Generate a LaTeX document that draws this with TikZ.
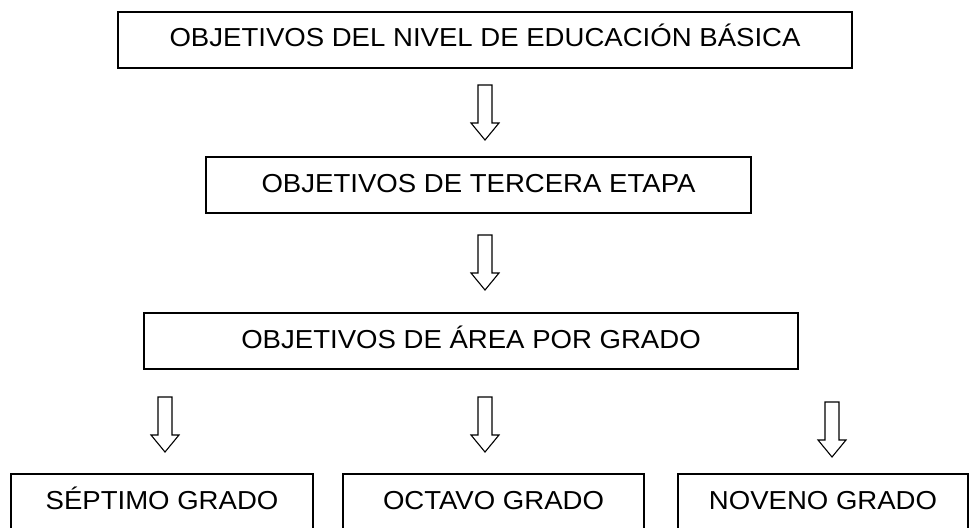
\documentclass[tikz,border=0pt]{standalone}
\usepackage{fontspec}
\setmainfont[FakeStretch=1.06]{Liberation Sans}
\usetikzlibrary{positioning}
% hollow block arrow pointing down: centre x, top y
\newcommand{\hollowarrow}[2]{\draw[line width=1.1pt, line join=miter] ( #1-7 , #2 ) -- ( #1+7 , #2 ) -- ( #1+7 , #2+38 ) -- ( #1+14 , #2+38 ) -- ( #1 , #2+55 ) -- ( #1-14 , #2+38 ) -- ( #1-7 , #2+38 ) -- cycle;}

\begin{document}
\begin{tikzpicture}[x=1pt, y=-1pt,
    caja/.style={draw, line width=1.6pt, minimum height=56pt, inner sep=0pt,
      text height=19pt, text depth=5pt, font=\fontsize{26}{30}\selectfont}]
        \clip (0,0) rectangle (971,527);
        % top levels
        \node[caja, minimum width=734pt] (nivel) at (485,40) {OBJETIVOS DEL NIVEL DE EDUCACIÓN BÁSICA};
        \node[caja, minimum width=545pt] (etapa) at (478.5,185) {OBJETIVOS DE TERCERA ETAPA};
        \node[caja, minimum width=654pt] (area) at (471,341) {OBJETIVOS DE ÁREA POR GRADO};
        % grades
        \node[caja, minimum width=302pt] (septimo) at (162,502) {SÉPTIMO GRADO};
        \node[caja, minimum width=301pt] (octavo) at (493.5,502) {OCTAVO GRADO};
        \node[caja, minimum width=290pt] (noveno) at (823,502) {NOVENO GRADO};
        % arrows
        \hollowarrow{485}{85}
        \hollowarrow{485}{235}
        \hollowarrow{165}{397}
        \hollowarrow{485}{397}
        \hollowarrow{832}{402}
    \end{tikzpicture}
\end{document}
